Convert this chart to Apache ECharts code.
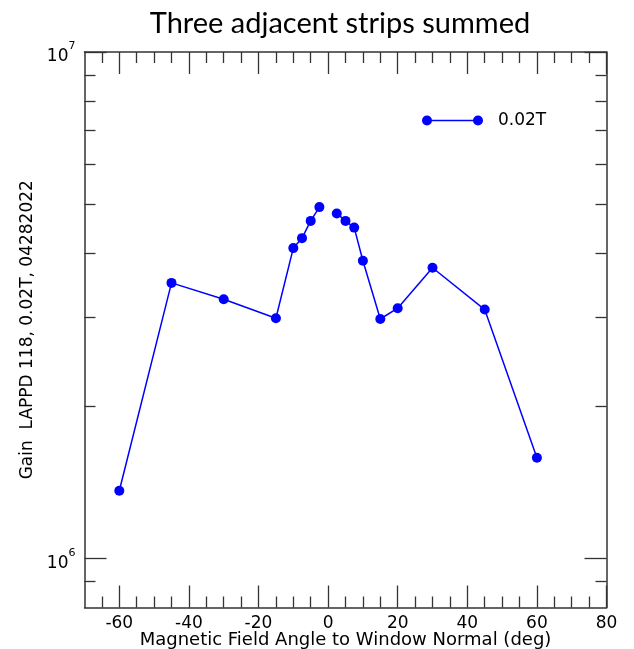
<!DOCTYPE html>
<html>
<head>
<meta charset="utf-8">
<script src="https://cdn.jsdelivr.net/npm/echarts@6/dist/echarts.min.js"></script>
<style>
  html, body { margin: 0; padding: 0; background: #fff; }
  #chart { width: 634px; height: 649px; }
</style>
</head>
<body>
<div id="chart"></div>
<script>
// Field angle (deg) and summed gain of three adjacent strips; no reading at 0 deg
const angles = [-60, -45, -30, -15, -10, -7.5, -5, -2.5, 0, 2.5, 5, 7.5, 10, 15, 20, 30, 45, 60];
const gains  = [1.36e6, 3.50e6, 3.25e6, 2.98e6, 4.10e6, 4.29e6, 4.64e6, 4.94e6, null,
                4.80e6, 4.64e6, 4.50e6, 3.87e6, 2.97e6, 3.12e6, 3.75e6, 3.10e6, 1.58e6];

const seriesName = '0.02T';
const titleText = 'Three adjacent strips summed';
const xName = 'Magnetic Field Angle to Window Normal (deg)';
const yName = 'Gain  LAPPD 118, 0.02T, 04282022';

const xMin = -70, xMax = 80;
const xMajorTicks = [-60, -40, -20, 0, 20, 40, 60, 80];
const xMinorTicks = [-65, -55, -50, -45, -35, -30, -25, -15, -10, -5, 5, 10, 15, 25, 30, 35, 45, 50, 55, 65, 70, 75];

const yMin = 8e5, yMax = 1e7;
const yMajorTicks = [1e6, 1e7];
const yMinorTicks = [9e5, 2e6, 3e6, 4e6, 5e6, 6e6, 7e6, 8e6, 9e6];

const axisColor = '#333';
const textColor = '#000';
const font = 'DejaVu Sans';

const points = angles.map((a, i) => [a, gains[i] == null ? '-' : gains[i]]);

function xAxisDef(pos, ticks, len, showLine, showLabel, extra) {
  return Object.assign({
    type: 'value', position: pos, min: xMin, max: xMax, gridIndex: 0,
    axisLine: { show: showLine, onZero: false, lineStyle: { color: axisColor, width: 1.5 } },
    axisTick: { show: true, inside: true, length: len, customValues: ticks,
                lineStyle: { color: axisColor, width: 1.3 } },
    axisLabel: showLabel
      ? { show: true, customValues: ticks, color: textColor, fontFamily: font, fontSize: 17, margin: 8 }
      : { show: false },
    splitLine: { show: false }
  }, extra || {});
}

function yAxisDef(pos, ticks, len, showLine, showLabel, extra) {
  return Object.assign({
    type: 'log', logBase: 10, position: pos, min: yMin, max: yMax, gridIndex: 0,
    axisLine: { show: showLine, onZero: false, lineStyle: { color: axisColor, width: 1.5 } },
    axisTick: { show: true, inside: true, length: len, customValues: ticks,
                lineStyle: { color: axisColor, width: 1.3 } },
    axisLabel: showLabel
      ? {
          show: true, customValues: ticks, margin: 9,
          formatter: v => '{b|10}{s|' + Math.round(Math.log10(v)) + '}',
          rich: {
            b: { fontFamily: font, fontSize: 17, color: textColor, lineHeight: 22, padding: [10, 0, 0, 0] },
            s: { fontFamily: font, fontSize: 11, color: textColor, lineHeight: 12, verticalAlign: 'top' }
          }
        }
      : { show: false },
    splitLine: { show: false }
  }, extra || {});
}

const chart = echarts.init(document.getElementById('chart'), null, { renderer: 'canvas' });
chart.setOption({
  backgroundColor: '#fff',
  animation: false,
  title: {
    text: titleText, left: 335, top: 4, textAlign: 'center',
    textStyle: { fontFamily: 'Lato', fontSize: 29, fontWeight: 'normal', color: textColor }
  },
  grid: { left: 84.5, top: 52, right: 27.5, bottom: 41.5, containLabel: false, outerBoundsMode: 'none' },
  legend: {
    left: 417, top: 107, orient: 'vertical',
    itemWidth: 61, itemHeight: 10,
    icon: 'path://M0,5A5,5,0,1,1,10,5A5,5,0,1,1,0,5Z M5,4.3H56V5.7H5Z M51,5A5,5,0,1,1,61,5A5,5,0,1,1,51,5Z',
    textStyle: { fontFamily: font, fontSize: 17, color: textColor, padding: [0, 0, 0, 10] },
    data: [seriesName]
  },
  xAxis: [
    xAxisDef('bottom', xMajorTicks, 22, true, true, {
      name: xName, nameLocation: 'middle', nameGap: 24, nameMoveOverlap: false,
      nameTextStyle: { fontFamily: font, fontSize: 18, color: textColor, verticalAlign: 'top' }
    }),
    xAxisDef('bottom', xMinorTicks, 11, false, false),
    xAxisDef('top', xMajorTicks, 22, true, false),
    xAxisDef('top', xMinorTicks, 11, false, false)
  ],
  yAxis: [
    yAxisDef('left', yMajorTicks, 22, true, true, {
      name: yName, nameLocation: 'middle', nameGap: 48, nameMoveOverlap: false,
      nameTextStyle: { fontFamily: font, fontSize: 17, color: textColor }
    }),
    yAxisDef('left', yMinorTicks, 11, false, false),
    yAxisDef('right', yMajorTicks, 22, true, false),
    yAxisDef('right', yMinorTicks, 11, false, false)
  ],
  series: [{
    name: seriesName, type: 'line', xAxisIndex: 0, yAxisIndex: 0,
    data: points, connectNulls: false,
    symbol: 'circle', symbolSize: 10, showAllSymbol: true,
    itemStyle: { color: '#0000ff' },
    lineStyle: { color: '#0000ff', width: 1.5 }
  }]
});
</script>
</body>
</html>
